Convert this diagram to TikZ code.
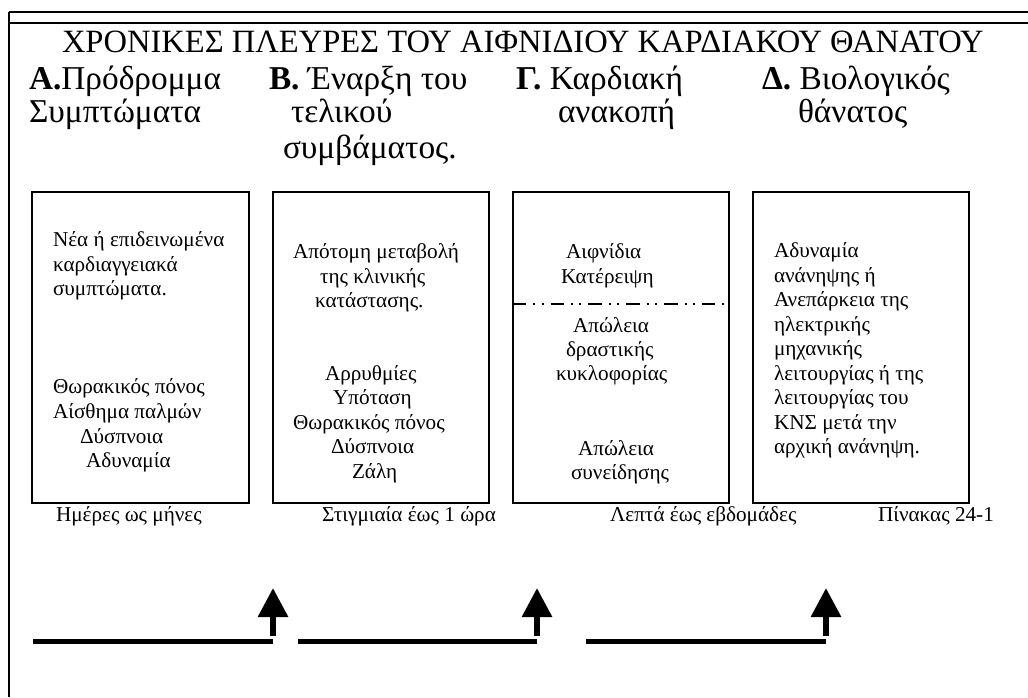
\documentclass[tikz,border=0pt]{standalone}
\usepackage{fontspec}
\setmainfont{Liberation Serif}
\usetikzlibrary{arrows.meta}
\begin{document}
\begin{tikzpicture}[x=0.75pt,y=-0.75pt,
  every node/.style={inner sep=0pt, outer sep=0pt},
  ttl/.style={anchor=base west, font=\fontsize{24.4}{28}\selectfont},
  hdr/.style={anchor=base west, font=\fontsize{25}{29}\selectfont},
  txt/.style={anchor=base west, font=\fontsize{15.9}{18.4}\selectfont},
  panel/.style={draw, line width=1.5pt, minimum width=162.4pt, minimum height=233.25pt},
  bar/.style={line width=3.75pt},
  uparrow/.style={line width=4.5pt, -{Triangle[length=21.75pt,width=21.75pt]}},
  dashdotdot/.style={line width=1pt, dash pattern=on 10pt off 5.25pt on 1.5pt off 4.9pt on 1.5pt off 5.25pt}
]
\useasboundingbox (0,0) rectangle (1028,697);
% frame
\coordinate (fbl) at (9,697);
\coordinate (ftl) at (9,12);
\coordinate (ftr) at (1028,12);
\coordinate (fml) at (9,23);
\coordinate (fmr) at (1028,23);
\draw[line width=1.1pt] (fbl) -- (ftl);
\draw[line width=0.8pt] (ftl) -- (ftr);
\draw[line width=1.4pt] (fml) -- (fmr);

% title
\node[ttl] (title) at (62,52) {ΧΡΟΝΙΚΕΣ ΠΛΕΥΡΕΣ ΤΟΥ ΑΙΦΝΙΔΙΟΥ ΚΑΡΔΙΑΚΟΥ ΘΑΝΑΤΟΥ};

% headers
\node[hdr] (hA1) at (29,89) {{\bfseries Α.}Πρόδρομμα};
\node[hdr] (hA2) at (29,122) {Συμπτώματα};
\node[hdr] (hB1) at (269,89) {{\bfseries Β.} Έναρξη του};
\node[hdr] (hB2) at (291,122) {τελικού};
\node[hdr] (hB3) at (283,158) {συμβάματος.};
\node[hdr] (hC1) at (516,89) {{\bfseries Γ.} Καρδιακή};
\node[hdr] (hC2) at (558,122) {ανακοπή};
\node[hdr] (hD1) at (762,89) {{\bfseries Δ.} Βιολογικός};
\node[hdr] (hD2) at (798,122) {θάνατος};

% boxes
\node[panel] (bA) at (140.5,347.5) {};
\node[panel] (bB) at (381,347.5) {};
\node[panel] (bC) at (621,347.5) {};
\node[panel] (bD) at (861,347.5) {};

% box A text
\node[txt] (a1) at (53,246) {Νέα ή επιδεινωμένα};
\node[txt] (a2) at (53,271) {καρδιαγγειακά};
\node[txt] (a3) at (53,295) {συμπτώματα.};
\node[txt] (a4) at (53,393) {Θωρακικός πόνος};
\node[txt] (a5) at (53,418) {Αίσθημα παλμών};
\node[txt] (a6) at (80,443) {Δύσπνοια};
\node[txt] (a7) at (86,467) {Αδυναμία};

% box B text
\node[txt] (b1) at (293,258) {Απότομη μεταβολή};
\node[txt] (b2) at (320,283) {της κλινικής};
\node[txt] (b3) at (315,307) {κατάστασης.};
\node[txt] (b4) at (325,380) {Αρρυθμίες};
\node[txt] (b5) at (333,404) {Υπόταση};
\node[txt] (b6) at (293,429) {Θωρακικός πόνος};
\node[txt] (b7) at (331,453) {Δύσπνοια};
\node[txt] (b8) at (352,478) {Ζάλη};

% box C text
\node[txt] (c1) at (566,258) {Αιφνίδια};
\node[txt] (c2) at (561,283) {Κατέρειψη};
\coordinate (dashy) at (0,304);
\draw[dashdotdot] (bC.west |- dashy) -- (bC.east |- dashy);
\node[txt] (c3) at (573,332) {Απώλεια};
\node[txt] (c4) at (566,356) {δραστικής};
\node[txt] (c5) at (556,380) {κυκλοφορίας};
\node[txt] (c6) at (578,455) {Απώλεια};
\node[txt] (c7) at (571,479) {συνείδησης};

% box D text
\node[txt] (d1) at (774,257) {Αδυναμία};
\node[txt] (d2) at (774,282) {ανάνηψης ή};
\node[txt] (d3) at (774,306) {Ανεπάρκεια της};
\node[txt] (d4) at (774,331) {ηλεκτρικής};
\node[txt] (d5) at (774,355) {μηχανικής};
\node[txt] (d6) at (774,380) {λειτουργίας ή της};
\node[txt] (d7) at (774,404) {λειτουργίας του};
\node[txt] (d8) at (774,429) {ΚΝΣ μετά την};
\node[txt] (d9) at (774,453) {αρχική ανάνηψη.};

% time labels
\node[txt] (l1) at (56,521) {Ημέρες ως μήνες};
\node[txt] (l2) at (322,521) {Στιγμιαία έως 1 ώρα};
\node[txt] (l3) at (610,521) {Λεπτά έως εβδομάδες};
\node[txt] (l4) at (878,521) {Πίνακας 24-1};

% bars and arrows
\coordinate (p1) at (33,641);  \coordinate (q1) at (273,641);
\coordinate (p2) at (298,641); \coordinate (q2) at (537,641);
\coordinate (p3) at (586,641); \coordinate (q3) at (826,641);
\draw[bar] (p1) -- (q1);
\draw[bar] (p2) -- (q2);
\draw[bar] (p3) -- (q3);
\coordinate (s1) at (273,636); \coordinate (t1) at (273,588);
\coordinate (s2) at (537,636); \coordinate (t2) at (537,588);
\coordinate (s3) at (826,636); \coordinate (t3) at (826,588);
\draw[uparrow] (s1) -- (t1);
\draw[uparrow] (s2) -- (t2);
\draw[uparrow] (s3) -- (t3);
\end{tikzpicture}
\end{document}
